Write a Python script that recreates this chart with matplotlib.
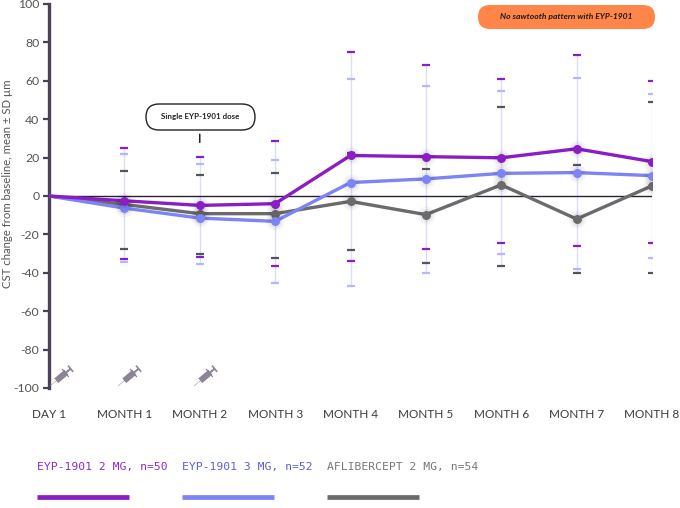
import numpy as np
import matplotlib
matplotlib.use("Agg")
import matplotlib.pyplot as plt
from matplotlib.path import Path
from matplotlib.transforms import Affine2D
from matplotlib.patches import FancyBboxPatch

categories = ["DAY 1", "MONTH 1", "MONTH 2", "MONTH 3", "MONTH 4", "MONTH 5", "MONTH 6", "MONTH 7", "MONTH 8"]
series_names = ["EYP-1901 2 MG, n=50", "EYP-1901 3 MG, n=52", "AFLIBERCEPT 2 MG, n=54"]

mean_2mg = [0, -2.5, -4.9, -4.0, 21.1, 20.5, 19.9, 24.6, 17.9]
mean_3mg = [0, -6.3, -11.5, -13.2, 7.0, 8.9, 11.8, 12.2, 10.6]
mean_afl = [0, -4.4, -9.2, -9.2, -2.8, -9.7, 5.8, -12.0, 5.3]

upper_2mg = [None, 24.8, 20.5, 28.6, 75.2, 68.0, 60.7, 73.5, 59.7]
upper_3mg = [None, 21.9, 16.8, 19.0, 60.7, 57.1, 54.5, 61.4, 53.3]
upper_afl = [None, 13.2, 11.0, 12.2, 22.6, 14.1, 46.4, 16.2, 49.1]

lower_2mg = [None, -32.7, -31.9, -36.4, -33.9, -27.4, -24.6, -26.2, -24.6]
lower_3mg = [None, -34.3, -35.6, -45.2, -46.7, -40.0, -30.1, -38.2, -32.4]
lower_afl = [None, -27.4, -30.1, -32.2, -28.2, -34.8, -36.5, -40.0, -40.2]

injection_visits = [0, 1, 2]
yticks = list(range(-100, 101, 20))

line_colors = ["#8A1DC4", "#7C84F6", "#6B6B6B"]
cap_colors = ["#8A1DC4", "#B3B7FF", "#555555"]
legend_text_colors = ["#8A2BD0", "#5A60D8", "#777777"]

W, H = 680, 508
fig = plt.figure(figsize=(W/100, H/100), dpi=100)
ax = fig.add_axes([49/W, 1-388/H, (652-49)/W, (388-4)/H])
x = np.arange(len(categories))

ax.set_xlim(0, len(categories) - 1)
ax.set_ylim(-100, 100)

# zero line
ax.axhline(0, color="#2a1f33", lw=1.0, zorder=2)

# error bar stems (shared light lavender)
for i in range(1, len(categories)):
    lo = min(lower_2mg[i], lower_3mg[i], lower_afl[i])
    hi = max(upper_2mg[i], upper_3mg[i], upper_afl[i])
    ax.plot([x[i], x[i]], [lo, hi], color="#DCDCFF", lw=1.0, zorder=1)

# caps
for ups, los, cc in [(upper_afl, lower_afl, cap_colors[2]), (upper_3mg, lower_3mg, cap_colors[1]), (upper_2mg, lower_2mg, cap_colors[0])]:
    xs = [x[i] for i in range(len(categories)) if ups[i] is not None]
    ax.scatter(xs, [u for u in ups if u is not None], marker="_", s=30, color=cc, linewidths=1.6, zorder=3)
    ax.scatter(xs, [l for l in los if l is not None], marker="_", s=30, color=cc, linewidths=1.6, zorder=3)

# lines with soft shadowed markers
for vals, col, z in [(mean_afl, line_colors[2], 4), (mean_3mg, line_colors[1], 5), (mean_2mg, line_colors[0], 6)]:
    ax.plot(x, vals, color=col, lw=2.4, zorder=z, solid_joinstyle="round")
    ax.scatter(x[1:], vals[1:], s=170, color="#000000", alpha=0.04, linewidths=0, zorder=z)
    ax.scatter(x[1:], vals[1:], s=90, color="#000000", alpha=0.05, linewidths=0, zorder=z)
    ax.scatter(x[1:], vals[1:], s=42, color=col, linewidths=0, zorder=z + 0.5)

# syringe marker
def syringe_path():
    verts = []
    codes = []
    def rect(x0, y0, x1, y1):
        verts.extend([(x0, y0), (x1, y0), (x1, y1), (x0, y1), (x0, y0)])
        codes.extend([Path.MOVETO, Path.LINETO, Path.LINETO, Path.LINETO, Path.CLOSEPOLY])
    rect(-0.40, -0.15, 0.25, 0.15)    # barrel
    rect(0.25, -0.05, 0.48, 0.05)     # plunger rod
    rect(0.48, -0.20, 0.56, 0.20)     # thumb rest
    rect(0.16, -0.26, 0.22, 0.26)     # finger flange
    rect(-0.80, -0.012, -0.40, 0.012) # needle
    p = Path(verts, codes)
    return p.transformed(Affine2D().rotate_deg(40))

spath = syringe_path()
syr_x = [v + (0.17 if v == 0 else 0.08) for v in injection_visits]
ax.scatter(syr_x, [-93] * len(syr_x), marker=spath, s=330, color="#8C8494", linewidths=0, zorder=3, clip_on=False)

# axes styling
for s in ["top", "right", "bottom"]:
    ax.spines[s].set_visible(False)
ax.spines["left"].set_color("#4b4158")
ax.spines["left"].set_linewidth(2.4)
ax.set_yticks(yticks)
ax.set_yticklabels([str(t) for t in yticks], fontsize=8.8, color="#555555", family="Lato")
ax.tick_params(axis="y", length=4, width=1.6, color="#4b4158", pad=3)
ax.set_xticks(x)
ax.set_xticklabels(categories, fontsize=8.5, color="#3a3a3a", family="Lato")
ax.tick_params(axis="x", length=0, pad=15)
fig.text(8/W, 1 - 184/H, "CST change from baseline, mean ± SD µm", rotation=90, ha="center", va="center",
         fontsize=8.2, color="#555555", family="Lato")

# annotation: single dose
ax.annotate("", xy=(2, 26.5), xytext=(2, 33.6), arrowprops=dict(arrowstyle="-", color="#222222", lw=1.1))
fig.add_artist(FancyBboxPatch((146, H - 130), 109, 26, boxstyle="round,pad=0,rounding_size=13",
                              fc="white", ec="#222222", lw=1.0, transform=None, zorder=8))
fig.text(200.5/W, 1 - 117/H, "Single EYP-1901 dose", ha="center", va="center", fontsize=5.8, fontweight="bold",
         color="#222222", family="Lato", zorder=9)

# orange callout
fig.add_artist(FancyBboxPatch((478, H - 29), 177, 24, boxstyle="round,pad=0,rounding_size=12",
                              fc="#FF8549", ec="none", transform=None, zorder=8))
fig.text(566/W, 1 - 17/H, "No sawtooth pattern with EYP-1901", ha="center", va="center",
         fontsize=6.1, fontweight="bold", style="italic", color="#1a1a1a", family="Lato", zorder=9)

# legend
leg_x = [37, 182, 327]
for name, tx, tc, lc in zip(series_names, leg_x, legend_text_colors, line_colors):
    fig.text(tx/W, 1 - 467/H, name, ha="left", va="center", fontsize=8.2, color=tc, family="DejaVu Sans Mono")
    fig.add_artist(plt.Line2D([tx/W, (tx + 92)/W], [1 - 497/H, 1 - 497/H], color=lc, lw=3.4, solid_capstyle="butt"))

fig.savefig("out.png", dpi=100)
